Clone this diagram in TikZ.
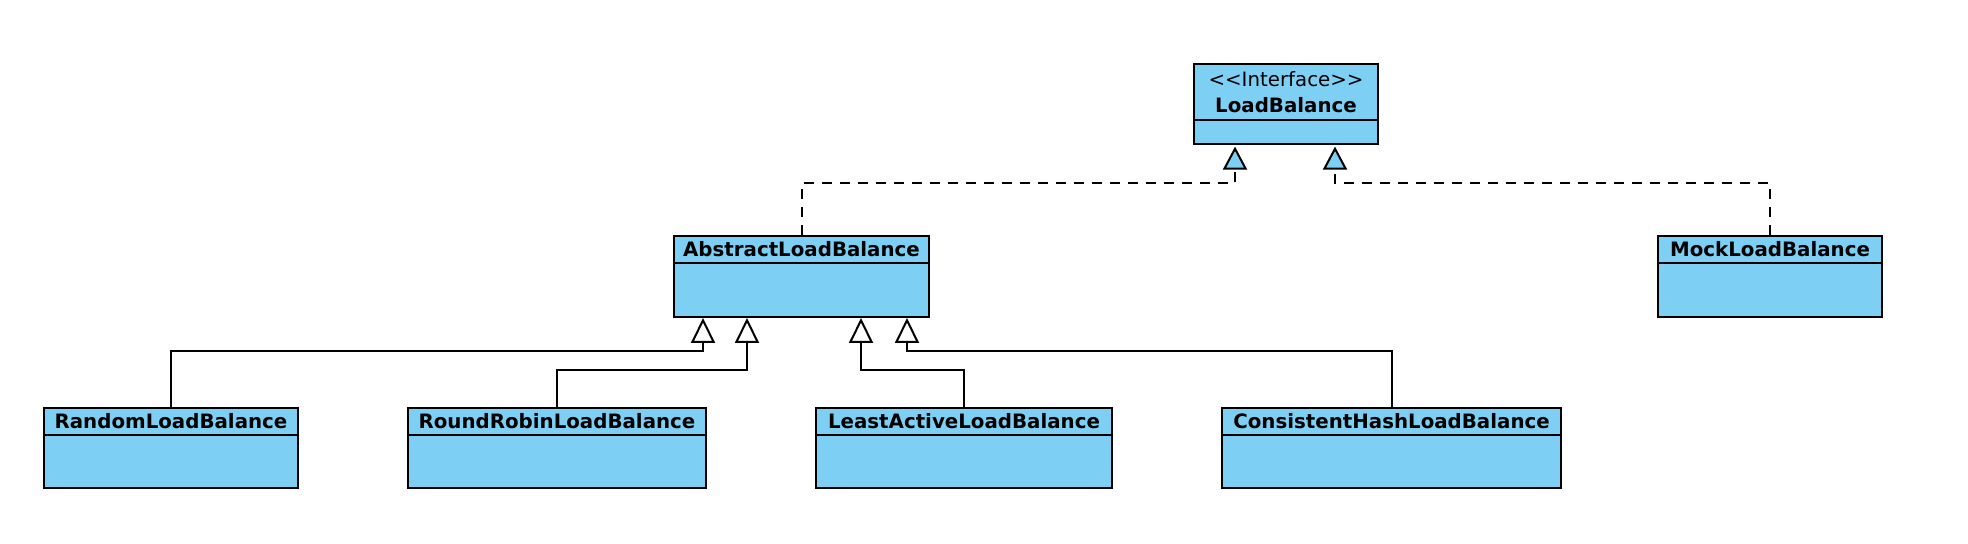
\documentclass[tikz,border=0pt]{standalone}
\usepackage{fontspec}
\setmainfont{DejaVu Sans}
\usetikzlibrary{arrows.meta,calc}
\definecolor{boxblue}{RGB}{126,207,244}
\tikzset{
  classbox/.style={draw=black, fill=boxblue, line width=1pt, inner sep=0pt, rectangle},
  classtitle/.style={font=\bfseries\fontsize{9.9}{11}\selectfont, inner sep=0pt, anchor=center},
  divider/.style={line width=1pt},
  inherit/.style={line width=1pt, -{Triangle[open, length=12.5pt, width=12pt, line width=1pt]}},
  realize/.style={line width=1pt, dash pattern=on 5pt off 4pt, -{Triangle[fill=boxblue, length=11.5pt, width=12pt, line width=1pt, sep=0.8pt]}},
}
\begin{document}
\begin{tikzpicture}[x=0.5pt, y=-0.5pt]
\useasboundingbox (0,0) rectangle (1968,544);
% boxes
\node[classbox, minimum width=92pt, minimum height=40pt] (lb) at (1286,104) {};
\node[classbox, minimum width=127.5pt, minimum height=40.5pt] (abs) at (801.5,276.5) {};
\node[classbox, minimum width=112pt, minimum height=40.5pt] (mock) at (1770,276.5) {};
\node[classbox, minimum width=127pt, minimum height=40pt] (rand) at (171,448) {};
\node[classbox, minimum width=149pt, minimum height=40pt] (rr) at (557,448) {};
\node[classbox, minimum width=148pt, minimum height=40pt] (la) at (964,448) {};
\node[classbox, minimum width=169.5pt, minimum height=40pt] (ch) at (1391.5,448) {};
% dividers
\draw[divider] ($(lb.north west)+(0,57)$) -- ($(lb.north east)+(0,57)$);
\foreach \n in {abs,mock,rand,rr,la,ch}{
  \draw[divider] ($(\n.north west)+(0,28.5)$) -- ($(\n.north east)+(0,28.5)$);
}
% titles
\node[font=\fontsize{9.9}{11}\selectfont, inner sep=0pt] (lbst) at ($(lb.north)+(0,16)$) {<{}<Interface>{}>};
\node[classtitle] (lbt) at ($(lb.north)+(0,42)$) {LoadBalance};
\node[classtitle] (abst) at ($(abs.north)+(0,14.5)$) {AbstractLoadBalance};
\node[classtitle] (mockt) at ($(mock.north)+(0,14.5)$) {MockLoadBalance};
\node[classtitle] (randt) at ($(rand.north)+(0,14.5)$) {RandomLoadBalance};
\node[classtitle] (rrt) at ($(rr.north)+(0,14.5)$) {RoundRobinLoadBalance};
\node[classtitle] (lat) at ($(la.north)+(0,14.5)$) {LeastActiveLoadBalance};
\node[classtitle] (cht) at ($(ch.north)+(0,14.5)$) {ConsistentHashLoadBalance};
% realizations
\draw[realize] (abs.north) -- ++(0,-52) -| ($(lb.south west)+(42,0)$);
\draw[realize] (mock.north) -- ++(0,-52) -| ($(lb.south west)+(142,0)$);
% generalizations
\draw[inherit] (rand.north) -- ++(0,-56) -| ($(abs.south west)+(30,0)$);
\draw[inherit] (rr.north) -- ++(0,-37) -| ($(abs.south west)+(74,0)$);
\draw[inherit] (la.north) -- ++(0,-37) -| ($(abs.south west)+(188,0)$);
\draw[inherit] (ch.north) -- ++(0,-56) -| ($(abs.south west)+(234,0)$);
\end{tikzpicture}
\end{document}
